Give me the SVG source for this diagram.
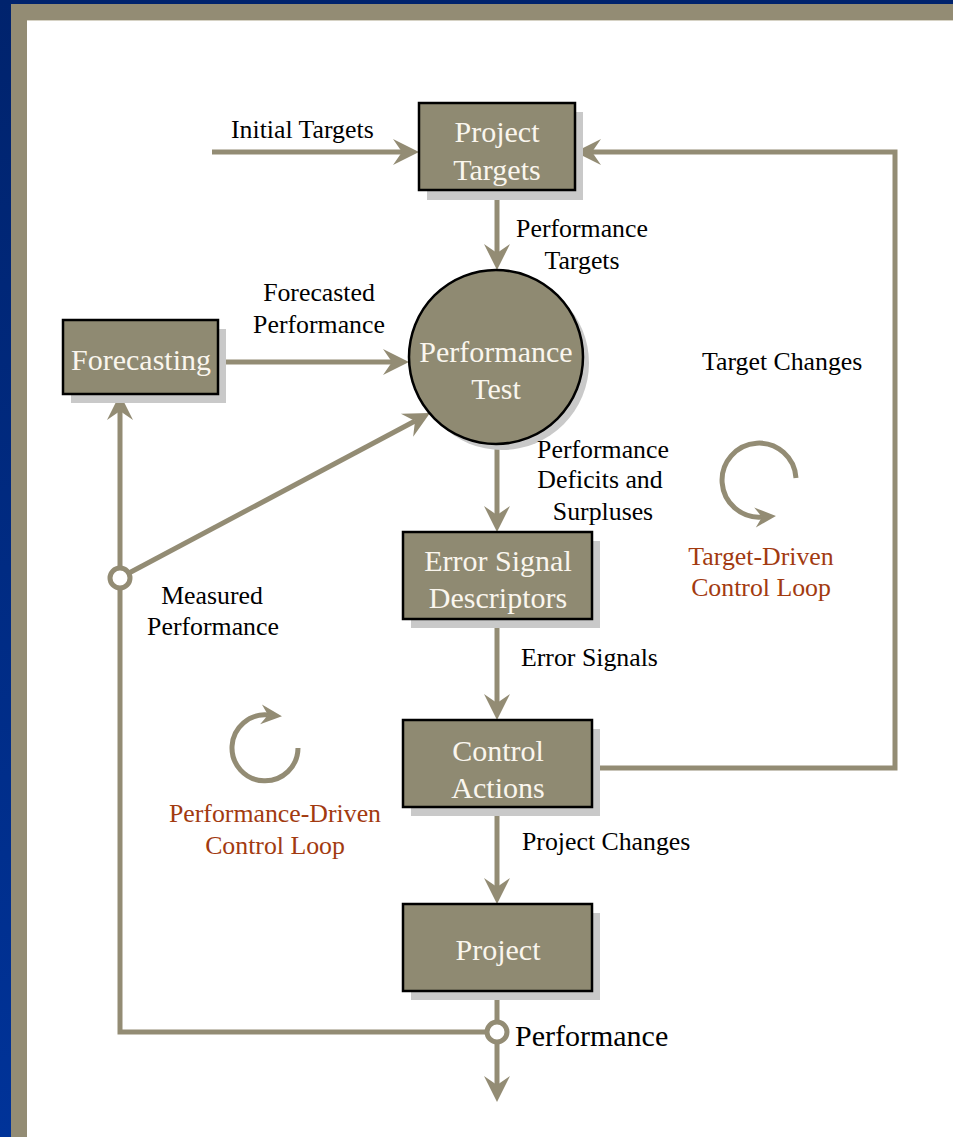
<svg xmlns="http://www.w3.org/2000/svg" width="953" height="1137" viewBox="0 0 953 1137">
<style>
.node{fill:#8f8a72;stroke:#000;stroke-width:2.5}
.shadow{fill:#c9c9c9}
.ntext{font-family:"Liberation Serif",serif;font-size:30px;fill:#faf6ee;text-anchor:middle}
.lbl{font-family:"Liberation Serif",serif;font-size:25.8px;fill:#000}
.loop{font-family:"Liberation Serif",serif;font-size:25.8px;fill:#a23a10;text-anchor:middle}
.mid{text-anchor:middle}
.conn{fill:none;stroke:#938c74;stroke-width:5}
.junc{fill:#fff;stroke:#938c74;stroke-width:5}
</style>
<defs>
<linearGradient id="blue" x1="0" y1="0" x2="0" y2="1">
<stop offset="0" stop-color="#00236d"/>
<stop offset="1" stop-color="#003399"/>
</linearGradient>
<marker id="arr" markerUnits="userSpaceOnUse" viewBox="-10 -14 28 28" markerWidth="28" markerHeight="28" refX="0" refY="0" orient="auto">
<path d="M17,0 L-9,-13 L0,0 L-9,13 Z" fill="#938c74"/>
</marker>
<marker id="arrs" markerUnits="userSpaceOnUse" viewBox="-8 -11 23 22" markerWidth="23" markerHeight="22" refX="0" refY="0" orient="auto">
<path d="M14,0 L-7,-10 L0,0 L-7,10 Z" fill="#938c74"/>
</marker>
</defs>
<g id="background">
<rect x="0" y="0" width="953" height="1137" fill="url(#blue)"/>
<rect x="11" y="4" width="942" height="1133" fill="#938c74"/>
<rect x="27" y="20" width="926" height="1117" fill="#fff"/>
<line x1="27" y1="20.5" x2="953" y2="20.5" stroke="#d6d2c4" stroke-width="1"/>
</g>
<g id="connectors">
<line class="conn" x1="212" y1="152" x2="402" y2="152" marker-end="url(#arr)"/>
<polyline class="conn" points="592,768 895,768 895,152 592,152" marker-end="url(#arr)"/>
<line class="conn" x1="497" y1="190" x2="497" y2="253" marker-end="url(#arr)"/>
<line class="conn" x1="218" y1="362" x2="392" y2="362" marker-end="url(#arr)"/>
<line class="conn" x1="497" y1="444" x2="497" y2="515" marker-end="url(#arr)"/>
<line class="conn" x1="497" y1="620" x2="497" y2="703" marker-end="url(#arr)"/>
<line class="conn" x1="497" y1="807" x2="497" y2="887" marker-end="url(#arr)"/>
<line class="conn" x1="497" y1="991" x2="497" y2="1085" marker-end="url(#arr)"/>
<polyline class="conn" points="487,1032 120,1032 120,588"/>
<line class="conn" x1="120" y1="568" x2="120" y2="411" marker-end="url(#arr)"/>
<line class="conn" x1="129" y1="573" x2="415" y2="421" marker-end="url(#arr)"/>
<circle class="junc" cx="497" cy="1032" r="10"/>
<circle class="junc" cx="120" cy="578" r="10"/>
<path class="conn" d="M796,478 A37,37 0 1 0 762,517" marker-end="url(#arrs)"/>
<path class="conn" d="M298,748 A33,33 0 1 1 268,715" marker-end="url(#arrs)"/>
</g>
<g id="node-project-targets">
<rect class="shadow" x="427" y="112" width="156" height="88"/>
<rect class="node" x="419" y="103" width="156" height="87"/>
<text class="ntext" x="497" y="142">Project</text>
<text class="ntext" x="497" y="180">Targets</text>
</g>
<g id="node-performance-test">
<circle class="shadow" cx="502" cy="363" r="87"/>
<circle class="node" cx="496" cy="357" r="87"/>
<text class="ntext" x="496" y="362">Performance</text>
<text class="ntext" x="496" y="399">Test</text>
</g>
<g id="node-forecasting">
<rect class="shadow" x="71" y="329" width="155" height="74"/>
<rect class="node" x="63" y="320" width="155" height="74"/>
<text class="ntext" x="141" y="370">Forecasting</text>
</g>
<g id="node-error-signal">
<rect class="shadow" x="411" y="541" width="189" height="87"/>
<rect class="node" x="403" y="532" width="189" height="87"/>
<text class="ntext" x="498" y="571">Error Signal</text>
<text class="ntext" x="498" y="608">Descriptors</text>
</g>
<g id="node-control-actions">
<rect class="shadow" x="411" y="729" width="189" height="87"/>
<rect class="node" x="403" y="720" width="189" height="87"/>
<text class="ntext" x="498" y="761">Control</text>
<text class="ntext" x="498" y="798">Actions</text>
</g>
<g id="node-project">
<rect class="shadow" x="411" y="913" width="189" height="87"/>
<rect class="node" x="403" y="904" width="189" height="87"/>
<text class="ntext" x="498" y="960">Project</text>
</g>
<g id="labels">
<text class="lbl" x="231" y="138">Initial Targets</text>
<text class="lbl mid" x="582" y="237">Performance</text>
<text class="lbl mid" x="582" y="269">Targets</text>
<text class="lbl mid" x="319" y="301">Forecasted</text>
<text class="lbl mid" x="319" y="333">Performance</text>
<text class="lbl" x="702" y="370">Target Changes</text>
<text class="lbl mid" x="603" y="458">Performance</text>
<text class="lbl mid" x="600" y="488">Deficits and</text>
<text class="lbl mid" x="603" y="520">Surpluses</text>
<text class="lbl mid" x="212" y="604">Measured</text>
<text class="lbl mid" x="213" y="635">Performance</text>
<text class="lbl" x="521" y="666">Error Signals</text>
<text class="lbl" x="522" y="850">Project Changes</text>
<text class="loop" x="761" y="565">Target-Driven</text>
<text class="loop" x="761" y="596">Control Loop</text>
<text class="loop" x="275" y="822">Performance-Driven</text>
<text class="loop" x="275" y="854">Control Loop</text>
<text class="lbl" x="515" y="1046" style="font-size:30px">Performance</text>
</g>
</svg>
